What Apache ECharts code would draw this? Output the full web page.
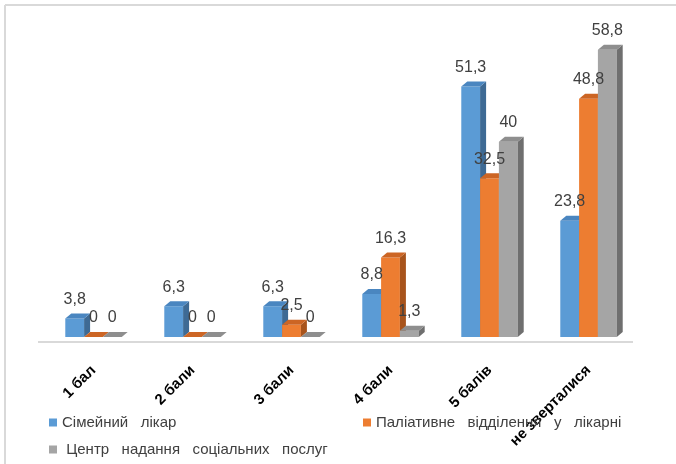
<!DOCTYPE html>
<html>
<head>
<meta charset="utf-8">
<title>Оцінка допомоги</title>
<script src="https://cdn.jsdelivr.net/npm/echarts@6/dist/echarts.min.js"></script>
<style>
  html, body { margin: 0; padding: 0; background: #fff; }
  #chart { width: 676px; height: 464px; }
</style>
</head>
<body>
<div id="chart"></div>
<script>
// categories and values
var categories = ['1 бал', '2 бали', '3 бали', '4 бали', '5 балів', 'не зверталися'];
var seriesNames = ['Сімейний лікар', 'Паліативне відділення у лікарні', 'Центр надання соціальних послуг'];
var likar = [3.8, 6.3, 6.3, 8.8, 51.3, 23.8];
var paliat = [0, 0, 2.5, 16.3, 32.5, 48.8];
var centr = [0, 0, 0, 1.3, 40, 58.8];

var values = [likar, paliat, centr];
var colors = ['#5B9BD5', '#ED7D31', '#A5A5A5'];
var topColors = ['#4A86C0', '#CC6524', '#8E8E8E'];
var sideColors = ['#3E6A94', '#A8541C', '#6F6F6F'];

var depthX = 6, depthY = 5, lift = 5;

function fmt(v) {
    return String(v).replace('.', ',');
}

function barRenderer(s) {
    return function (params, api) {
        var idx = api.value(0), v = api.value(1);
        var base = api.coord([idx, 0]);
        var top = api.coord([idx, v]);
        var w = api.size([1, 0])[0] * 0.19;
        var x0 = base[0] + (s - 1.5) * w;
        var yb = base[1] - lift;
        var yt = top[1] - lift;
        return {
            type: 'group',
            children: [
                {
                    type: 'rect',
                    shape: { x: x0, y: yt, width: w, height: yb - yt },
                    style: { fill: colors[s] }
                },
                {
                    type: 'polygon',
                    shape: { points: [[x0 + w, yt], [x0 + w + depthX, yt - depthY], [x0 + w + depthX, yb - depthY], [x0 + w, yb]] },
                    style: { fill: sideColors[s] }
                },
                {
                    type: 'polygon',
                    shape: { points: [[x0, yt], [x0 + depthX, yt - depthY], [x0 + w + depthX, yt - depthY], [x0 + w, yt]] },
                    style: { fill: topColors[s] }
                }
            ]
        };
    };
}

function labelRenderer(s) {
    return function (params, api) {
        var idx = api.value(0), v = api.value(1);
        var base = api.coord([idx, 0]);
        var top = api.coord([idx, v]);
        var w = api.size([1, 0])[0] * 0.19;
        var x0 = base[0] + (s - 1.5) * w;
        return {
            type: 'text',
            style: {
                text: fmt(v),
                x: x0 + w / 2,
                y: top[1] - lift - 19,
                align: 'center',
                verticalAlign: 'middle',
                fill: '#404040',
                font: '16px "Liberation Sans", sans-serif'
            }
        };
    };
}

var series = [];
values.forEach(function (arr, s) {
    series.push({
        name: seriesNames[s],
        type: 'custom',
        z: 2,
        itemStyle: { color: colors[s] },
        renderItem: barRenderer(s),
        encode: { x: 0, y: 1 },
        data: arr.map(function (v, i) { return [i, v]; })
    });
});
values.forEach(function (arr, s) {
    series.push({
        type: 'custom',
        z: 5,
        silent: true,
        renderItem: labelRenderer(s),
        encode: { x: 0, y: 1 },
        data: arr.map(function (v, i) { return [i, v]; })
    });
});

var legendText = {
    fontSize: 15,
    color: '#404040',
    fontFamily: '"Liberation Sans", sans-serif'
};
function spaced(name) {
    return name.split(' ').join('   ');
}

var chart = echarts.init(document.getElementById('chart'));
var option = {
    animation: false,
    grid: { left: 44, width: 594, top: 49, bottom: 122 },
    xAxis: {
        type: 'category',
        data: categories,
        axisLine: { show: false },
        axisTick: { show: false },
        axisLabel: {
            interval: 0,
            rotate: 45,
            margin: 26,
            fontSize: 15,
            fontWeight: 'bold',
            color: '#000',
            fontFamily: '"Liberation Sans", sans-serif'
        }
    },
    yAxis: {
        type: 'value',
        min: 0,
        max: 60,
        show: false,
        splitLine: { show: false }
    },
    legend: [
        { data: [seriesNames[0]], left: 49, top: 415, padding: 0, icon: 'rect', itemWidth: 8, itemHeight: 8, textStyle: legendText, formatter: spaced },
        { data: [seriesNames[1]], left: 363, top: 415, padding: 0, icon: 'rect', itemWidth: 8, itemHeight: 8, textStyle: legendText, formatter: spaced },
        { data: [seriesNames[2]], left: 49, top: 442, padding: 0, icon: 'rect', itemWidth: 8, itemHeight: 8, textStyle: legendText, formatter: function (n) { return ' ' + spaced(n); } }
    ],
    graphic: [
        { type: 'line', shape: { x1: 5, y1: 5, x2: 676, y2: 5 }, style: { stroke: '#d9d9d9', lineWidth: 2 } },
        { type: 'line', shape: { x1: 5, y1: 5, x2: 5, y2: 464 }, style: { stroke: '#d9d9d9', lineWidth: 2 } },
        { type: 'line', shape: { x1: 38, y1: 342, x2: 633, y2: 342 }, style: { stroke: '#d9d9d9', lineWidth: 2 }, z: 1 }
    ],
    series: series
};
chart.setOption(option);
</script>
</body>
</html>
